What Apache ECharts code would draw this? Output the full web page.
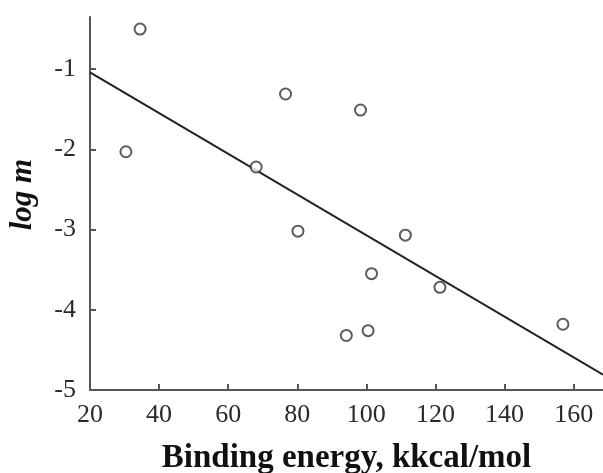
<!DOCTYPE html>
<html>
<head>
<meta charset="utf-8">
<script src="https://cdn.jsdelivr.net/npm/echarts@6/dist/echarts.min.js"></script>
<style>
html,body{margin:0;padding:0;background:#fff;}
#chart{width:603px;height:473px;}
</style>
</head>
<body>
<div id="chart"></div>
<script>
// Scatter points (binding energy, log m)
const energyX = [34.5, 30.4, 76.6, 98.3, 68.1, 80.2, 111.3, 101.5, 121.3, 94.2, 100.5, 156.9];
const logM    = [-0.50, -2.03, -1.31, -1.51, -2.22, -3.02, -3.07, -3.55, -3.72, -4.32, -4.26, -4.18];
// Regression line endpoints
const fitX = [20, 168.5];
const fitY = [-1.04, -4.81];
// Tick labels
const xTicks = [20, 40, 60, 80, 100, 120, 140, 160];
const yTicks = [-5, -4, -3, -2, -1];
const xName = 'Binding energy, kkcal/mol';
const yName = 'log m';

const chart = echarts.init(document.getElementById('chart'));
const ink = '#2a2a2a';
const font = '"Liberation Serif", "Times New Roman", serif';

chart.setOption({
  animation: false,
  backgroundColor: '#fff',
  grid: { left: 90, right: 0, top: 17, bottom: 83, containLabel: false, outerBoundsMode: 'none' },
  xAxis: {
    type: 'value', min: 20, max: 168.5,
    axisLine: { show: true, lineStyle: { color: '#555', width: 2 } },
    axisTick: { show: true, inside: true, length: 6, lineStyle: { color: '#555', width: 2 }, customValues: xTicks },
    axisLabel: { customValues: xTicks, color: ink, fontFamily: font, fontSize: 26, margin: 12 },
    splitLine: { show: false },
    name: xName, nameLocation: 'middle', nameGap: 52,
    nameTextStyle: { color: '#111', fontFamily: font, fontSize: 33, fontWeight: 'bold' }
  },
  yAxis: {
    type: 'value', min: -5, max: -0.35,
    axisLine: { show: true, lineStyle: { color: '#555', width: 2 } },
    axisTick: { show: true, inside: true, length: 6, lineStyle: { color: '#555', width: 2 }, customValues: yTicks },
    axisLabel: { customValues: yTicks, color: ink, fontFamily: font, fontSize: 26, margin: 14 },
    splitLine: { show: false },
    name: yName, nameLocation: 'middle', nameRotate: 90, nameGap: 52,
    nameTextStyle: { color: '#111', fontFamily: font, fontSize: 31, fontWeight: 'bold', fontStyle: 'italic', padding: [0, 0, 0, 18] }
  },
  series: [
    {
      type: 'line',
      data: fitX.map((x, i) => [x, fitY[i]]),
      symbol: 'none',
      lineStyle: { color: '#222', width: 2 },
      z: 2
    },
    {
      type: 'scatter',
      data: energyX.map((x, i) => [x, logM[i]]),
      symbol: 'circle',
      symbolSize: 11,
      itemStyle: { color: '#fff', borderColor: '#333', borderWidth: 2 },
      z: 3
    }
  ]
});
</script>
</body>
</html>
